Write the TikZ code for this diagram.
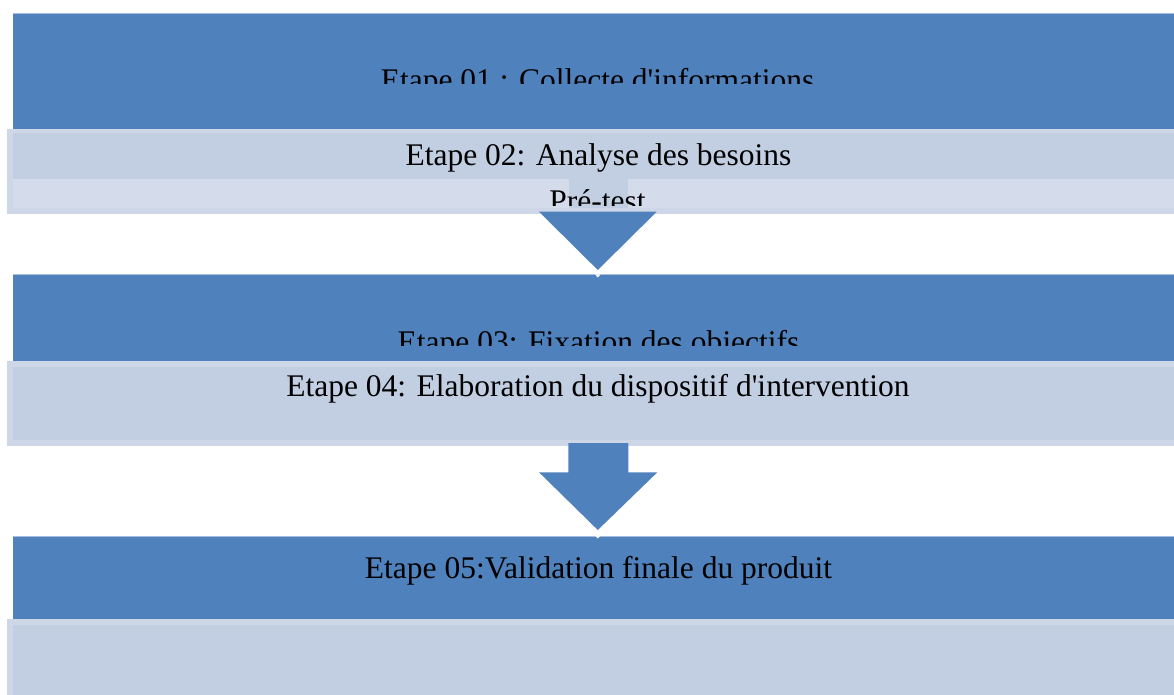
\documentclass[tikz,border=0pt]{standalone}
\usepackage{fontspec}
\setmainfont{Liberation Serif}[Ligatures=TeXOff]
\definecolor{darkstep}{HTML}{4F81BD}
\definecolor{lightstep}{HTML}{C2CFE3}
\definecolor{lightframe}{HTML}{CED7E8}
\definecolor{bandfill}{HTML}{D4DCEB}
\definecolor{topedge}{HTML}{A9BEDC}
\begin{document}
\begin{tikzpicture}[x=1pt,y=-1pt,
  steptext/.style={font=\fontsize{31.5}{36}\selectfont, inner sep=0pt, anchor=base, text=black},
  darkbox/.style={fill=darkstep},
  notch/.style={fill=white}]
\useasboundingbox (0,0) rectangle (1174,695);
\fill[white] (0,0) rectangle (1174,695);

% Step 01 (dark band, text cut by the next band)
\fill[darkbox] (12.7,13.3) rectangle (1174,129.4);
\draw[topedge, line width=1pt] (12.7,13.8) -- (1174,13.8);
\begin{scope}
  \clip (0,0) rectangle (1174,83.5);
  \node[steptext] (s1) at (597.5,90.5) {Etape 01 : Collecte d'informations};
\end{scope}

% Step 02 (light band with sub-band)
\fill[lightframe] (7.3,129.4) rectangle (1174,213.6);
\fill[lightstep] (12.7,133.3) rectangle (1174,179.5);
\fill[bandfill] (12.7,179.5) rectangle (1174,207.5);
\fill[lightstep] (568.5,179.5) rectangle (627.5,207.5);
\node[steptext] (s2) at (598.5,165.5) {Etape 02: Analyse des besoins};
\begin{scope}
  \clip (0,170) rectangle (1174,205);
  \node[steptext] (pre) at (597.5,211.5) {Pré-test};
\end{scope}

% Arrow down to step 03
\fill[darkstep] (539,211.7) -- (656.7,211.7) -- (597.8,270) -- cycle;

% Step 03
\fill[darkbox] (12.7,274.3) rectangle (1174,361);
\draw[topedge, line width=1pt] (12.7,274.8) -- (1174,274.8);
\fill[notch] (595,274.3) -- (600.6,274.3) -- (597.8,277.5) -- cycle;
\begin{scope}
  \clip (0,300) rectangle (1174,345);
  \node[steptext] (s3) at (598.5,352.5) {Etape 03: Fixation des objectifs};
\end{scope}

% Step 04
\fill[lightframe] (7.3,361) rectangle (1174,445.5);
\fill[lightstep] (12.7,367) rectangle (1174,440);
\node[steptext] (s4) at (598,396) {Etape 04: Elaboration du dispositif d'intervention};

% Block arrow down to step 05
\fill[darkstep] (568.3,443) -- (628.3,443) -- (628.3,472.3) -- (657.3,472.3)
  -- (597.8,530) -- (539,472.3) -- (568.3,472.3) -- cycle;

% Step 05
\fill[darkbox] (12.7,535.5) rectangle (1174,619);
\draw[topedge, line width=1pt] (12.7,536) -- (1174,536);
\fill[notch] (595,535.5) -- (600.6,535.5) -- (597.8,538.5) -- cycle;
\node[steptext] (s5) at (598.5,578.3) {Etape 05:Validation finale du produit};

% Step 06 (empty light band)
\fill[lightframe] (7.3,619) rectangle (1174,700);
\fill[lightstep] (12.7,625) rectangle (1174,700);
\end{tikzpicture}
\end{document}
